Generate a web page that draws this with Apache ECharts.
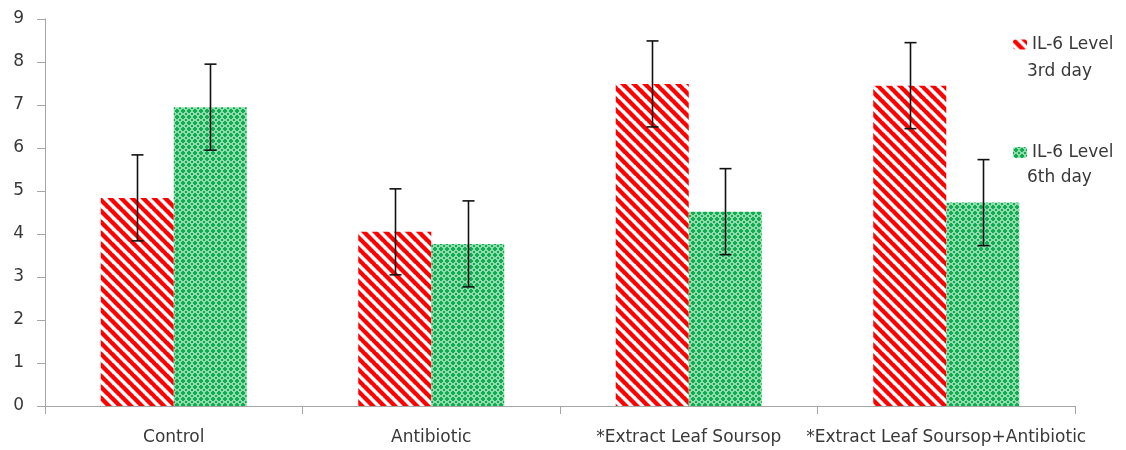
<!DOCTYPE html>
<html>
<head>
<meta charset="utf-8">
<script src="https://cdn.jsdelivr.net/npm/echarts@6/dist/echarts.min.js"></script>
<style>
html,body{margin:0;padding:0;background:#fff;}
#c{width:1126px;height:450px;}
</style>
</head>
<body>
<div id="c"></div>
<script>
// ---- data ----
const categories = ['Control', 'Antibiotic', '*Extract Leaf Soursop', '*Extract Leaf Soursop+Antibiotic'];
const day3Values = [4.84, 4.05, 7.49, 7.45];
const day6Values = [6.95, 3.77, 4.52, 4.73];
const day3Errors = [1.0, 1.0, 1.0, 1.0];
const day6Errors = [1.0, 1.0, 1.0, 1.0];
const yTicks = [0, 1, 2, 3, 4, 5, 6, 7, 8, 9];
const seriesNames = ['IL-6 Level 3rd day', 'IL-6 Level 6th day'];

// ---- styles ----
const BAR_W = 73;
const FONT = 'DejaVu Sans';
const FS = 17;
const TXT = '#383838';
const AXIS = '#a6a6a6';

function stripePattern() {
  const s = 11;
  const c = document.createElement('canvas');
  c.width = s; c.height = s;
  const g = c.getContext('2d');
  g.fillStyle = '#ffffff';
  g.fillRect(0, 0, s, s);
  g.strokeStyle = '#ff0000';
  g.lineWidth = 4.4;
  for (let k = -1; k <= 1; k++) {
    g.beginPath();
    g.moveTo(k * s - 1, -1);
    g.lineTo(k * s + s + 1, s + 1);
    g.stroke();
  }
  return c;
}
function dotPattern() {
  const s = 6;
  const c = document.createElement('canvas');
  c.width = s; c.height = s;
  const g = c.getContext('2d');
  g.fillStyle = '#8fdcad';
  g.fillRect(0, 0, s, s);
  g.fillStyle = '#12ab52';
  g.fillRect(2, 1, 2, 4);
  g.fillRect(1, 2, 4, 2);
  g.fillRect(0, 0, 1, 1);
  g.fillRect(5, 0, 1, 1);
  g.fillRect(0, 5, 1, 1);
  g.fillRect(5, 5, 1, 1);
  return c;
}
const redFill = { image: stripePattern(), repeat: 'repeat' };
const greenFill = { image: dotPattern(), repeat: 'repeat' };

function errData(vals, errs, idx) {
  return vals.map((v, i) => [i, v - errs[i], v + errs[i], idx]);
}

function renderErr(params, api) {
  const idx = api.value(3);
  const off = (idx === 0 ? -1 : 1) * BAR_W / 2;
  const lo = api.coord([api.value(0), api.value(1)]);
  const hi = api.coord([api.value(0), api.value(2)]);
  const x = Math.round(lo[0] + off) + 0.5;
  const cap = 6;
  const st = { stroke: '#111', lineWidth: 1.6 };
  return {
    type: 'group',
    children: [
      { type: 'line', shape: { x1: x, y1: hi[1], x2: x, y2: lo[1] }, style: st },
      { type: 'line', shape: { x1: x - cap, y1: hi[1], x2: x + cap, y2: hi[1] }, style: st },
      { type: 'line', shape: { x1: x - cap, y1: lo[1], x2: x + cap, y2: lo[1] }, style: st }
    ]
  };
}

const chart = echarts.init(document.getElementById('c'));
chart.setOption({
  animation: false,
  backgroundColor: '#fff',
  textStyle: { fontFamily: FONT },
  grid: { left: 45, right: 51, top: 19, bottom: 44 },
  legend: [
    {
      data: [seriesNames[0]], left: 1008, top: 31, orient: 'vertical',
      itemWidth: 14, itemHeight: 10, itemGap: 0,
      formatter: () => 'IL-6 Level',
      textStyle: { fontSize: FS, color: TXT, fontFamily: FONT }
    },
    {
      data: [seriesNames[1]], left: 1008, top: 139, orient: 'vertical',
      itemWidth: 14, itemHeight: 11, itemGap: 0,
      formatter: () => 'IL-6 Level',
      textStyle: { fontSize: FS, color: TXT, fontFamily: FONT }
    }
  ],
  graphic: [
    { type: 'text', x: 1027, y: 72, style: { text: '3rd day', fontSize: FS, fontFamily: FONT, fill: TXT, verticalAlign: 'middle' } },
    { type: 'text', x: 1027, y: 178, style: { text: '6th day', fontSize: FS, fontFamily: FONT, fill: TXT, verticalAlign: 'middle' } }
  ],
  xAxis: {
    type: 'category',
    data: categories,
    axisLine: { lineStyle: { color: AXIS, width: 1 } },
    axisTick: { show: true, length: 8, alignWithLabel: false, lineStyle: { color: AXIS } },
    axisLabel: { interval: 0, margin: 23, fontSize: FS, color: TXT, fontFamily: FONT },
    splitLine: { show: false }
  },
  yAxis: {
    type: 'value',
    min: yTicks[0], max: yTicks[yTicks.length - 1], interval: 1,
    axisLine: { show: true, lineStyle: { color: AXIS, width: 1 } },
    axisTick: { show: true, length: 8, lineStyle: { color: AXIS } },
    axisLabel: { margin: 21, fontSize: FS, color: TXT, fontFamily: FONT },
    splitLine: { show: false }
  },
  series: [
    { name: seriesNames[0], type: 'bar', data: day3Values, barWidth: BAR_W, barGap: '0%', itemStyle: { color: redFill } },
    { name: seriesNames[1], type: 'bar', data: day6Values, barWidth: BAR_W, barGap: '0%', itemStyle: { color: greenFill } },
    { type: 'custom', renderItem: renderErr, data: errData(day3Values, day3Errors, 0), z: 10 },
    { type: 'custom', renderItem: renderErr, data: errData(day6Values, day6Errors, 1), z: 10 }
  ]
});
</script>
</body>
</html>
